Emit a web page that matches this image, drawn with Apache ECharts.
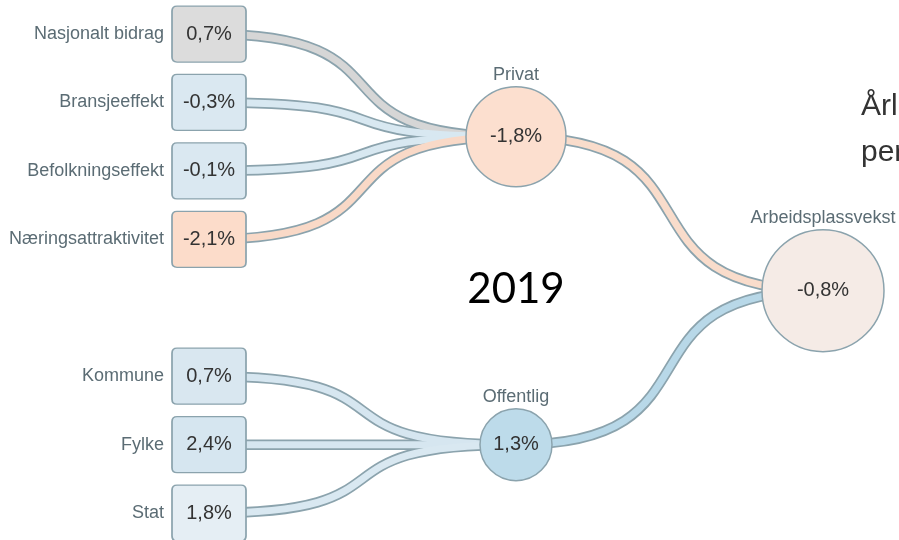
<!DOCTYPE html>
<html>
<head>
<meta charset="utf-8">
<script src="https://cdn.jsdelivr.net/npm/echarts@6/dist/echarts.min.js"></script>
<style>
html,body{margin:0;padding:0;background:#fff;}
#chart{width:899px;height:540px;}
</style>
</head>
<body>
<div id="chart"></div>
<script>
// ---- data ----
const rootName = 'Arbeidsplassvekst';
const rootValue = -0.8;
const groupNames = ['Privat', 'Offentlig'];
const groupValues = [-1.8, 1.3];
const privatNames = ['Nasjonalt bidrag', 'Bransjeeffekt', 'Befolkningseffekt', 'Næringsattraktivitet'];
const privatValues = [0.7, -0.3, -0.1, -2.1];
const offentligNames = ['Kommune', 'Fylke', 'Stat'];
const offentligValues = [0.7, 2.4, 1.8];
const yearLabel = '2019';
const sideTitle = 'Årlig vekst\nperioden';

// ---- styles ----
const borderCol = '#8ba3ad';
const nameCol = '#5b6c74';
const valueCol = '#333333';
const privatFill = ['#dcdcdc', '#dae8f1', '#dae8f1', '#fcdcca'];
const privatTube = ['#d6d6d6', '#d8e8f1', '#d8e8f1', '#f9d9c7'];
const offentligFill = ['#d9e7f0', '#d6e6f0', '#e5eef4'];
const offentligTube = ['#d6e6f0', '#d6e6f0', '#d9e8f1'];
const groupFill = ['#fcdfcf', '#bddbea'];
const groupTube = ['#f9dccb', '#b8d8e8'];
const groupRadius = [50, 36];
const rootFill = '#f5ebe6';
const rootRadius = 61;
const boxW = 74, boxH = 56;
const boxPath = 'path://M5,0 H69 Q74,0 74,5 V51 Q74,56 69,56 H5 Q0,56 0,51 V5 Q0,0 5,0 Z';
const curve = 0.7;

function fmt(v) { return v.toFixed(1).replace('.', ',') + '%'; }

function leaf(name, value, fill, tube, layer) {
  const node = { name: name, value: value };
  if (layer === 'nodes') {
    node.symbol = boxPath;
    node.symbolSize = [boxW, boxH];
    node.itemStyle = { color: fill, borderColor: borderCol, borderWidth: 1.5 };
    node.label = {
      show: true, position: 'inside', align: 'right', verticalAlign: 'middle',
      offset: [boxW / 2, 0],
      formatter: '{n|' + name + '}{v|' + fmt(value) + '}',
      rich: {
        n: { fontSize: 18, color: nameCol, fontFamily: 'Liberation Sans, Arial', padding: [0, 8, 0, 0] },
        v: { fontSize: 20, color: valueCol, fontFamily: 'Liberation Sans, Arial', width: boxW, align: 'center' }
      }
    };
  } else {
    node.lineStyle = layer === 'inner' ? { color: tube } : {};
  }
  return node;
}

function circleNode(name, value, fill, tube, r, layer, children) {
  const node = { name: name, value: value, children: children };
  if (layer === 'nodes') {
    node.symbol = 'circle';
    node.symbolSize = 2 * r;
    node.itemStyle = { color: fill, borderColor: borderCol, borderWidth: 1.5 };
    node.label = {
      show: true, position: 'inside', align: 'center', verticalAlign: 'middle',
      formatter: '{n|' + name + '}\n{v|' + fmt(value) + '}\n{s| }',
      rich: {
        n: { fontSize: 18, color: nameCol, fontFamily: 'Liberation Sans, Arial', lineHeight: 20 },
        v: { fontSize: 20, color: valueCol, fontFamily: 'Liberation Sans, Arial', lineHeight: 2 * r + 4 },
        s: { fontSize: 18, lineHeight: 20 }
      }
    };
  } else if (tube) {
    node.lineStyle = layer === 'inner' ? { color: tube } : {};
  }
  return node;
}

function buildTree(layer) {
  const privatKids = privatNames.map((n, i) => leaf(n, privatValues[i], privatFill[i], privatTube[i], layer));
  const offKids = offentligNames.map((n, i) => leaf(n, offentligValues[i], offentligFill[i], offentligTube[i], layer));
  const groups = [
    circleNode(groupNames[0], groupValues[0], groupFill[0], groupTube[0], groupRadius[0], layer, privatKids),
    circleNode(groupNames[1], groupValues[1], groupFill[1], groupTube[1], groupRadius[1], layer, offKids)
  ];
  return circleNode(rootName, rootValue, rootFill, null, rootRadius, layer, groups);
}

function treeSeries(layer) {
  const s = {
    type: 'tree',
    orient: 'RL',
    left: 209, right: 76, top: -34.4, bottom: -41.5,
    expandAndCollapse: false,
    initialTreeDepth: -1,
    roam: false,
    silent: true,
    edgeShape: 'curve',
    emphasis: { disabled: true },
    data: [buildTree(layer)]
  };
  if (layer === 'outer') {
    s.symbol = 'none';
    s.label = { show: false };
    s.leaves = { label: { show: false } };
    s.lineStyle = { color: borderCol, width: 10.5, curveness: curve };
  } else if (layer === 'inner') {
    s.symbol = 'none';
    s.label = { show: false };
    s.leaves = { label: { show: false } };
    s.lineStyle = { color: '#dddddd', width: 7, curveness: curve };
  } else {
    s.lineStyle = { width: 0, opacity: 0, curveness: curve };
  }
  return s;
}

const chart = echarts.init(document.getElementById('chart'), null, { renderer: 'canvas' });
chart.setOption({
  animation: false,
  backgroundColor: '#ffffff',
  series: [treeSeries('outer'), treeSeries('inner'), treeSeries('nodes')],
  graphic: [
    {
      type: 'text', x: 516, y: 289, silent: true,
      style: { text: yearLabel, font: '42px Lato', fill: '#000', align: 'center', verticalAlign: 'middle' }
    },
    {
      type: 'text', x: 861, y: 84, silent: true,
      style: { text: sideTitle, font: '30px "Liberation Sans", Arial', fill: '#333', lineHeight: 46, align: 'left', verticalAlign: 'top' }
    }
  ]
});
</script>
</body>
</html>
